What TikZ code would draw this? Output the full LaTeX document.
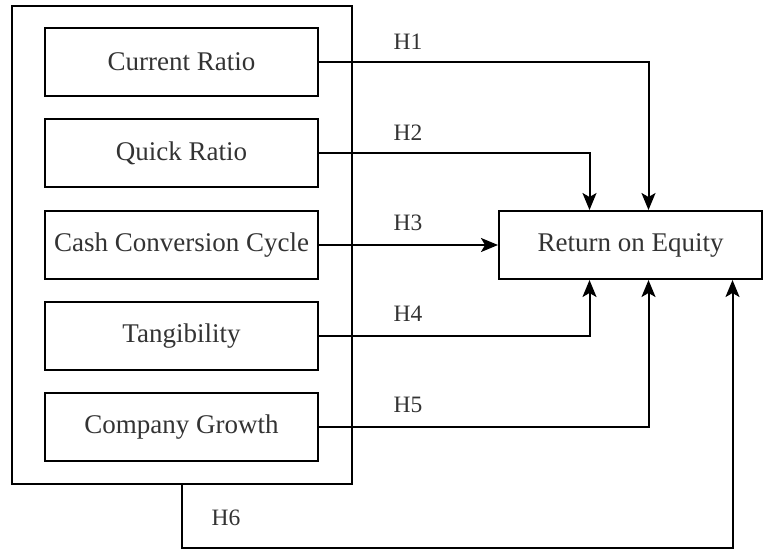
\documentclass[tikz,border=0pt]{standalone}
\usepackage{fontspec}
\setmainfont{Liberation Serif}
\newfontfamily\boxfont{Liberation Serif}
\usepackage{tikz}
\usetikzlibrary{shapes, arrows.meta, positioning}

\definecolor{txtgray}{HTML}{333333}

\begin{document}
\begin{tikzpicture}[x=1pt, y=-1pt, >={Stealth[length=17pt, width=14pt, inset=4pt]}, line width=2pt,
                    varbox/.style={rectangle, draw, inner sep=0pt, minimum width=273pt, minimum height=68pt, text=txtgray, font=\boxfont\fontsize{27}{32}\selectfont},
                    hyp/.style={text=txtgray, inner sep=0pt, font=\boxfont\fontsize{23.5}{28}\selectfont}]
                            \useasboundingbox (0, 0) rectangle (765, 552);
                            \node [rectangle, draw, minimum width=340pt, minimum height=478pt] (group) at (182, 245) {};
                            \node [varbox] (current) at (181.5, 62) {Current Ratio};
                            \node [varbox] (quick) at (181.5, 153) {Quick Ratio};
                            \node [varbox] (ccc) at (181.5, 245) {Cash Conversion Cycle};
                            \node [varbox] (tangib) at (181.5, 336) {Tangibility};
                            \node [varbox] (growth) at (181.5, 427) {Company Growth};
                            \node [varbox, minimum width=263pt] (roe) at (630.5, 245) {Return on Equity};
                            \coordinate (bottomline) at (0, 548);

                            \node [hyp] (hone) at (408, 42) {H1};
                            \node [hyp] (htwo) at (408, 133) {H2};
                            \node [hyp] (hthree) at (408, 223) {H3};
                            \node [hyp] (hfour) at (408, 314) {H4};
                            \node [hyp] (hfive) at (408, 405) {H5};
                            \node [hyp] (hsix) at (226, 518) {H6};

                            \draw [->] (current.east) -| ([xshift=18pt]roe.north);
                            \draw [->] (quick.east) -| ([xshift=-41pt]roe.north);
                            \draw [->] (ccc.east) -- (roe.west);
                            \draw [->] (tangib.east) -| ([xshift=-41pt]roe.south);
                            \draw [->] (growth.east) -| ([xshift=18pt]roe.south);
                            \draw [->] (group.south) -- (group.south |- bottomline) -| ([xshift=102pt]roe.south);
                        \end{tikzpicture}
\end{document}
